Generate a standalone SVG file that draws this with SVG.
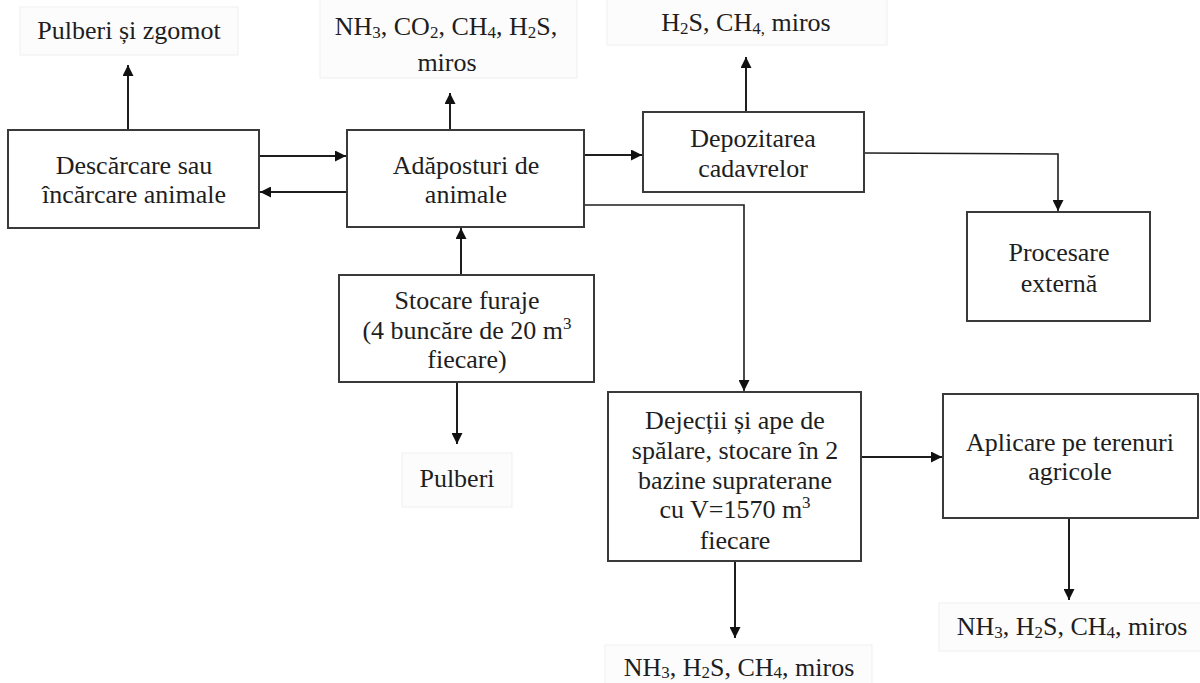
<svg xmlns="http://www.w3.org/2000/svg" width="1200" height="683" viewBox="0 0 1200 683">
<style>
  .box { fill: #ffffff; stroke: #3a3a3a; stroke-width: 2; }
  .lbl { fill: #fcfcfc; stroke: #efefef; stroke-width: 1; }
  text { font-family: "Liberation Serif", "Times New Roman", serif; font-size: 26px; fill: #1e1e1e; text-anchor: middle; }
  .sub { font-size: 17px; }
  .con { fill: none; stroke: #1e1e1e; stroke-width: 2; marker-end: url(#ah); }
  .thin { stroke-width: 1.6; }
</style>
<defs>
  <marker id="ah" markerUnits="userSpaceOnUse" markerWidth="11" markerHeight="11" viewBox="0 0 10 10" refX="10" refY="5" orient="auto">
    <path d="M0,0 L10,5 L0,10 z" fill="#111111"/>
  </marker>
</defs>
<rect x="0" y="0" width="1200" height="683" fill="#ffffff"/>

<g id="connectors">
  <line class="con" x1="128" y1="130" x2="128" y2="65"/>
  <line class="con" x1="259" y1="156" x2="346" y2="156"/>
  <line class="con" x1="347" y1="192" x2="260" y2="192"/>
  <line class="con" x1="450" y1="130" x2="450" y2="93"/>
  <line class="con" x1="461" y1="275" x2="461" y2="228"/>
  <line class="con" x1="457" y1="382" x2="457" y2="444"/>
  <line class="con" x1="584" y1="155" x2="642" y2="155"/>
  <line class="con" x1="746" y1="112" x2="746" y2="57"/>
  <polyline class="con thin" points="864,153 1058,154 1058,211"/>
  <polyline class="con thin" points="584,205 744,205 744,391"/>
  <line class="con" x1="861" y1="457" x2="942" y2="457"/>
  <line class="con" x1="735" y1="561" x2="735" y2="638"/>
  <line class="con" x1="1069" y1="518" x2="1069" y2="600"/>
</g>

<g id="lbl-pulberi-zgomot">
  <rect class="lbl" x="20" y="7" width="218" height="48"/>
  <text x="129" y="39">Pulberi și zgomot</text>
</g>

<g id="lbl-adaposturi-emisii">
  <rect class="lbl" x="320" y="-1" width="257" height="79"/>
  <text x="446" y="35">NH<tspan class="sub" dy="3">3</tspan><tspan dy="-3">, CO</tspan><tspan class="sub" dy="3">2</tspan><tspan dy="-3">, CH</tspan><tspan class="sub" dy="3">4</tspan><tspan dy="-3">, H</tspan><tspan class="sub" dy="3">2</tspan><tspan dy="-3">S,</tspan></text>
  <text x="447" y="71">miros</text>
</g>

<g id="lbl-depozitare-emisii">
  <rect class="lbl" x="607" y="-1" width="280" height="46"/>
  <text x="746" y="31">H<tspan class="sub" dy="3">2</tspan><tspan dy="-3">S, CH</tspan><tspan class="sub" dy="3">4,</tspan><tspan dy="-3"> miros</tspan></text>
</g>

<g id="node-descarcare">
  <rect class="box" x="8" y="130" width="251" height="98"/>
  <text x="134" y="174">Descărcare sau</text>
  <text x="134" y="203">încărcare animale</text>
</g>

<g id="node-adaposturi">
  <rect class="box" x="347" y="130" width="237" height="97"/>
  <text x="466" y="174">Adăposturi de</text>
  <text x="466" y="203">animale</text>
</g>

<g id="node-depozitarea">
  <rect class="box" x="643" y="112" width="221" height="80"/>
  <text x="753" y="147">Depozitarea</text>
  <text x="753" y="177">cadavrelor</text>
</g>

<g id="node-procesare">
  <rect class="box" x="967" y="212" width="183" height="109"/>
  <text x="1059" y="261">Procesare</text>
  <text x="1059" y="292">externă</text>
</g>

<g id="node-stocare">
  <rect class="box" x="339" y="275" width="255" height="107"/>
  <text x="467" y="309">Stocare furaje</text>
  <text x="467" y="339">(4 buncăre de 20 m<tspan class="sub" dy="-10">3</tspan></text>
  <text x="467" y="368">fiecare)</text>
</g>

<g id="lbl-pulberi">
  <rect class="lbl" x="402" y="453" width="110" height="54"/>
  <text x="457" y="487">Pulberi</text>
</g>

<g id="node-dejectii">
  <rect class="box" x="608" y="392" width="253" height="169"/>
  <text x="735" y="429">Dejecții și ape de</text>
  <text x="735" y="459">spălare, stocare în 2</text>
  <text x="735" y="489">bazine supraterane</text>
  <text x="735" y="518">cu V=1570 m<tspan class="sub" dy="-10">3</tspan></text>
  <text x="735" y="549">fiecare</text>
</g>

<g id="node-aplicare">
  <rect class="box" x="943" y="394" width="255" height="124"/>
  <text x="1070" y="451">Aplicare pe terenuri</text>
  <text x="1070" y="480">agricole</text>
</g>

<g id="lbl-dejectii-emisii">
  <rect class="lbl" x="605" y="645" width="267" height="40"/>
  <text x="739" y="676">NH<tspan class="sub" dy="2">3</tspan><tspan dy="-2">, H</tspan><tspan class="sub" dy="2">2</tspan><tspan dy="-2">S, CH</tspan><tspan class="sub" dy="2">4</tspan><tspan dy="-2">, miros</tspan></text>
</g>

<g id="lbl-aplicare-emisii">
  <rect class="lbl" x="939" y="603" width="262" height="48"/>
  <text x="1072" y="635">NH<tspan class="sub" dy="3">3</tspan><tspan dy="-3">, H</tspan><tspan class="sub" dy="3">2</tspan><tspan dy="-3">S, CH</tspan><tspan class="sub" dy="3">4</tspan><tspan dy="-3">, miros</tspan></text>
</g>
</svg>
